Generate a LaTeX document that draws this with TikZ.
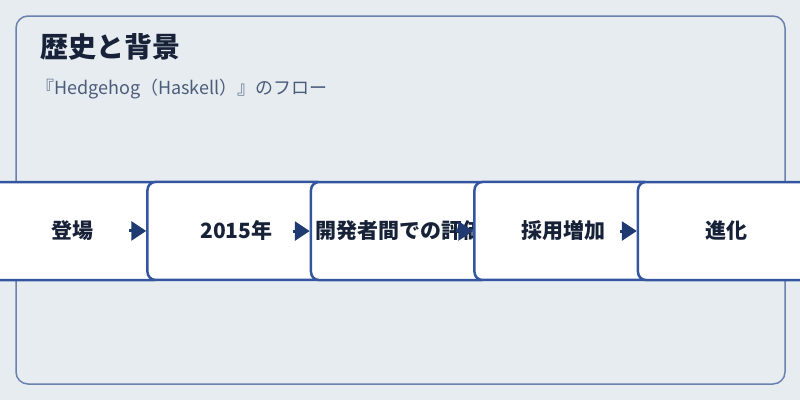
\documentclass[tikz,border=0pt]{standalone}
\usepackage{fontspec}
\usepackage{tikz}
\usetikzlibrary{matrix, arrows.meta}
\newfontfamily\cjk{Noto Sans CJK JP}
\definecolor{pagebg}{HTML}{E7ECF1}
\definecolor{panelline}{HTML}{6A82AD}
\definecolor{boxblue}{HTML}{3456A0}
\definecolor{arrowblue}{HTML}{1E3A70}
\definecolor{ink}{HTML}{172238}
\definecolor{subink}{HTML}{4B5C7A}

\begin{document}
\begin{tikzpicture} [x = 1pt, y = -1pt,
  stage/.style = {draw = boxblue, fill = white, line width = 2.5pt, rounded corners = 8pt, minimum width = 178pt, minimum height = 98pt, inner sep = 0pt, text = ink, font = \cjk\bfseries\fontsize{21}{25}\selectfont},
  link/.style = {-{Triangle[length = 15pt, width = 19pt]}, line width = 3pt, draw = arrowblue}]
\useasboundingbox (0,0) rectangle (800,400);
\fill[pagebg] (0,0) rectangle (800,400);
\draw[panelline, line width = 1.5pt, rounded corners = 12pt] (16,16) rectangle (785,384);
\node[anchor = west, inner sep = 0pt, text = ink, font = \cjk\bfseries\fontsize{28}{32}\selectfont](title) at (40,47){歴史と背景};
\node[anchor = west, inner sep = 0pt, text = subink, font = \cjk\fontsize{18}{22}\selectfont](sub) at (36,89){『Hedgehog（Haskell）』のフロー};
\matrix (m) [matrix of nodes, column sep = -17pt, inner sep = 0pt, nodes = {stage}] at (400,231){
登場 & 2015年 & 開発者間での評価 & 採用増加 & 進化 \\
};
\coordinate (a1) at ([xshift = -17pt]m-1-2.west);
\coordinate (a2) at ([xshift = -17pt]m-1-3.west);
\coordinate (a3) at ([xshift = -17pt]m-1-4.west);
\coordinate (a4) at ([xshift = -17pt]m-1-5.west);
\draw[link] (a1) -- (m-1-2.west);
\draw[link] (a2) -- (m-1-3.west);
\draw[link] (a3) -- (m-1-4.west);
\draw[link] (a4) -- (m-1-5.west);
\end{tikzpicture}
\end{document}
